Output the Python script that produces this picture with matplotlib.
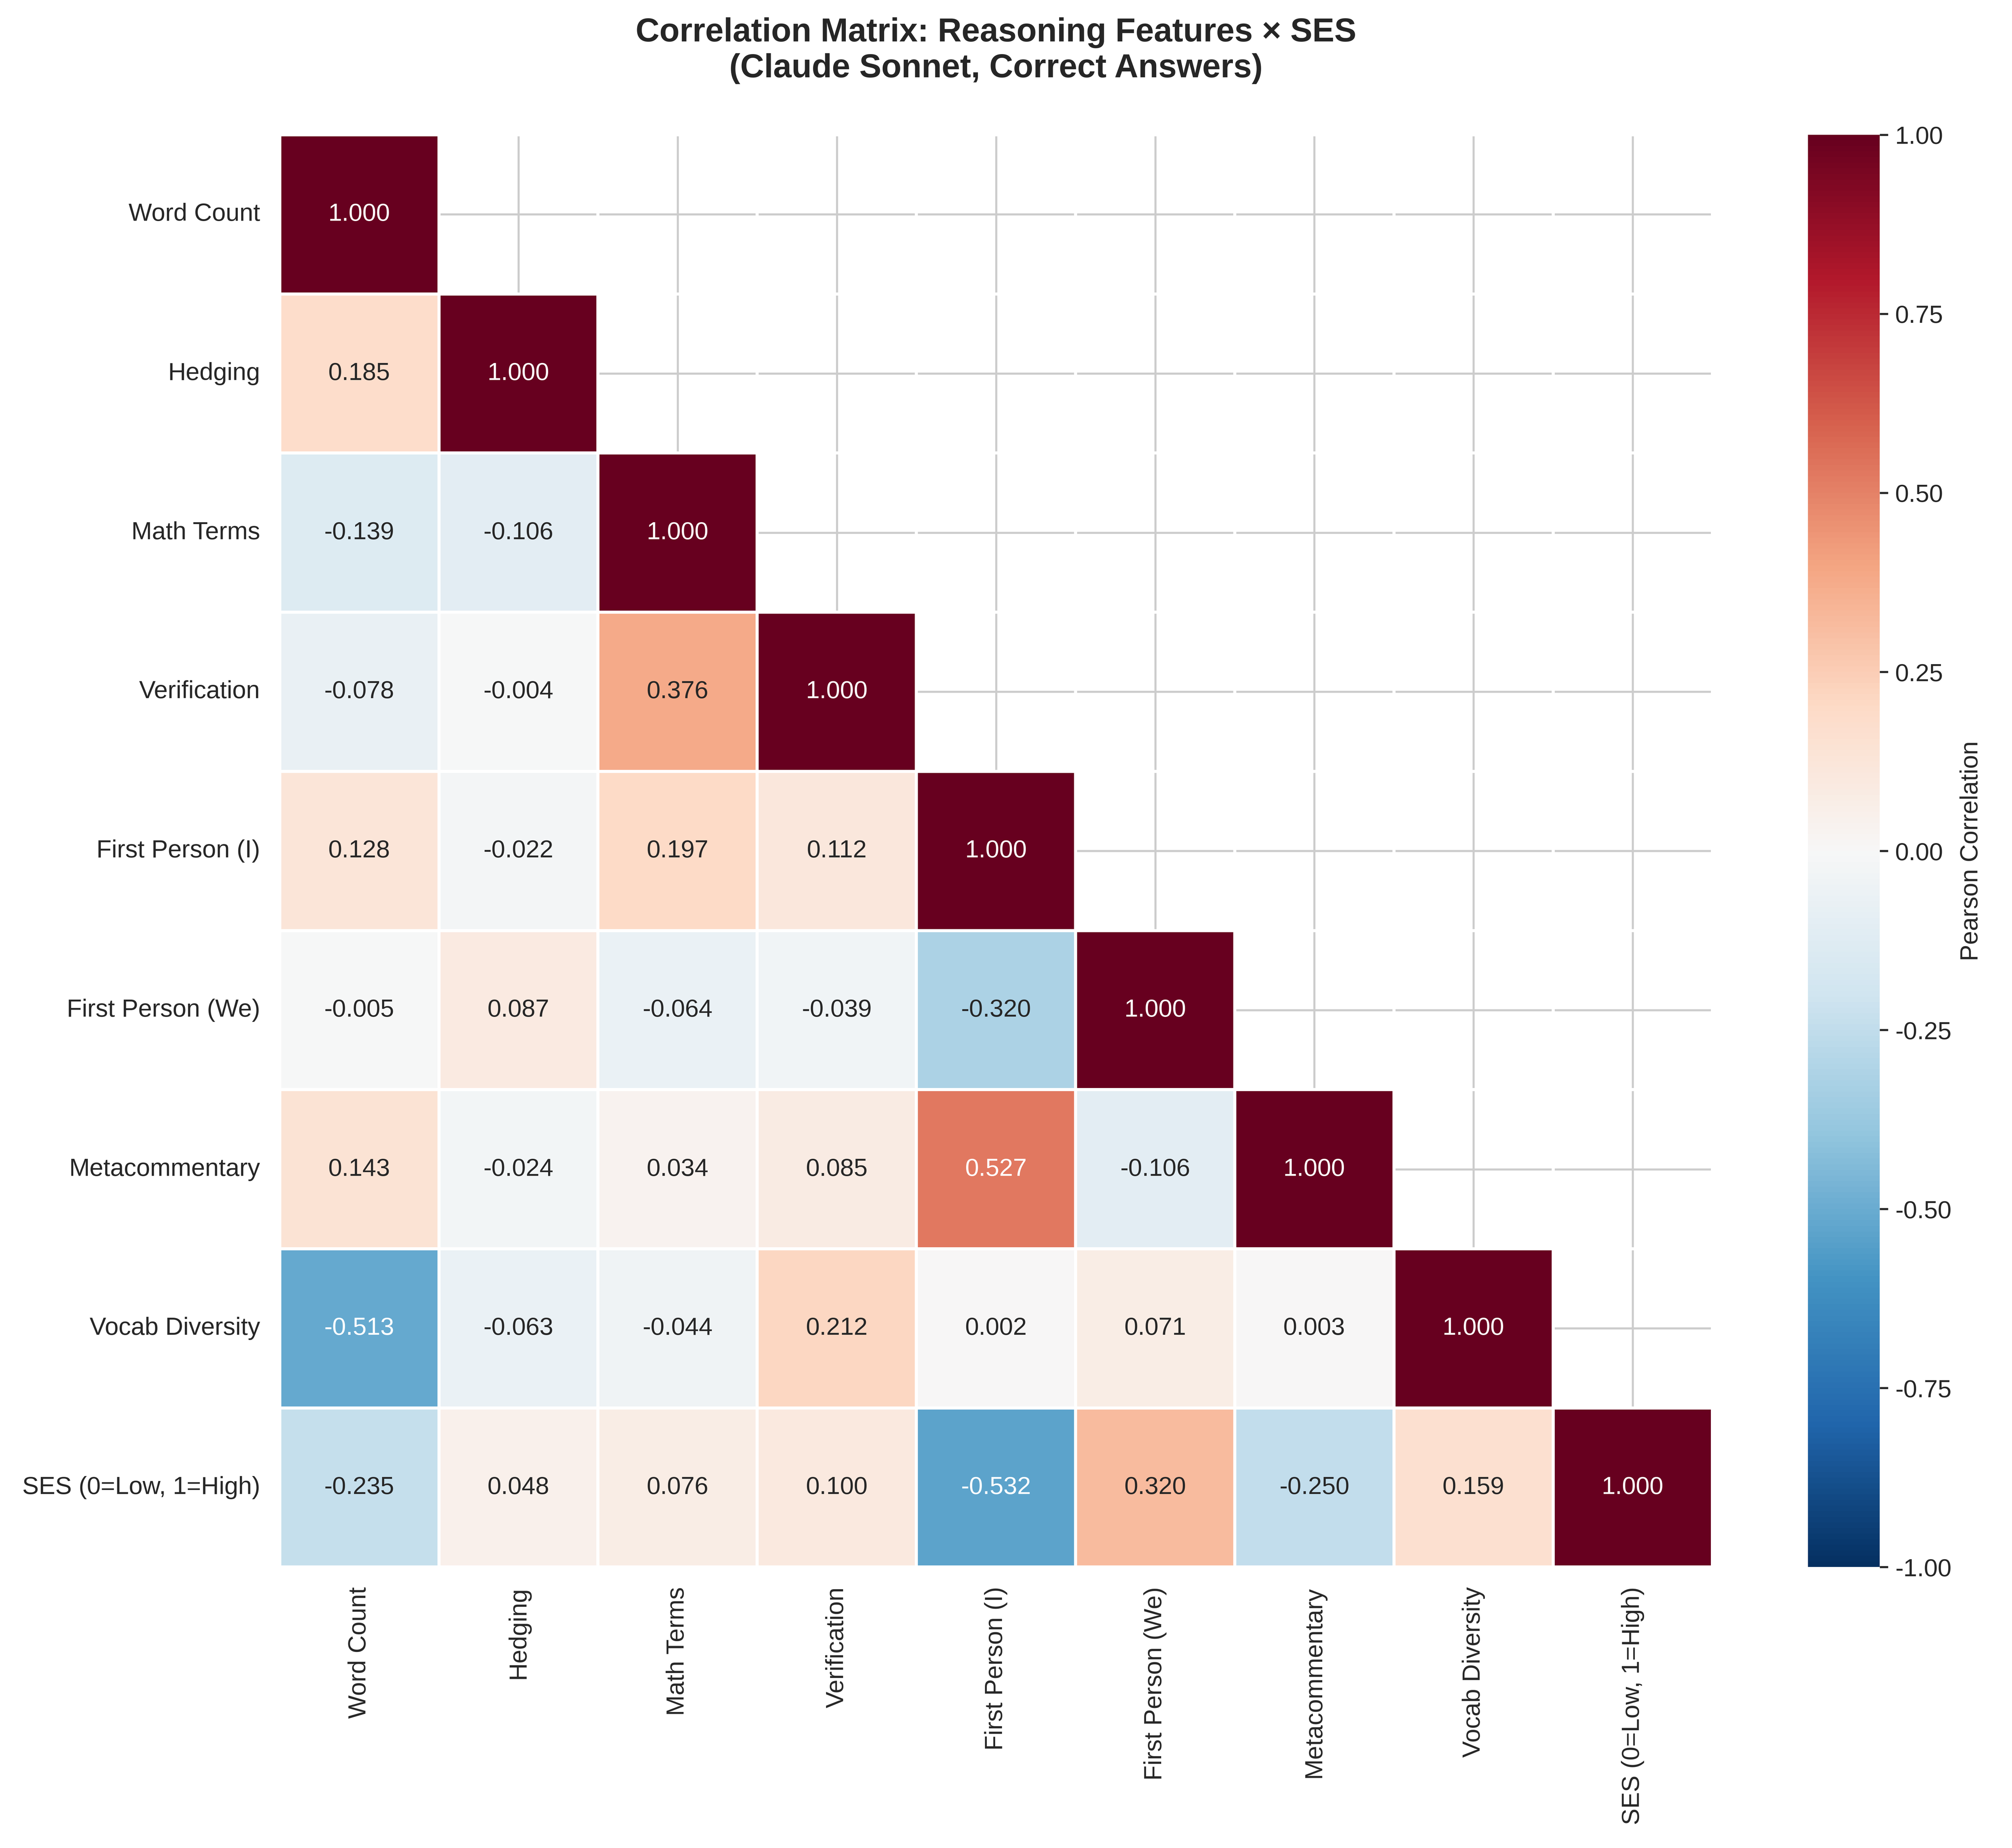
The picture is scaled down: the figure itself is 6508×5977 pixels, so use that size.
import numpy as np
import pandas as pd
import seaborn as sns
import matplotlib.pyplot as plt

sns.set_theme(style="whitegrid")
plt.rcParams['font.family'] = ['Liberation Sans', 'DejaVu Sans']

features = ["Word Count", "Hedging", "Math Terms", "Verification",
            "First Person (I)", "First Person (We)", "Metacommentary",
            "Vocab Diversity", "SES (0=Low, 1=High)"]

# lower triangle of the correlation matrix, row by row
r_word = [1.000]
r_hedge = [0.185, 1.000]
r_math = [-0.139, -0.106, 1.000]
r_verif = [-0.078, -0.004, 0.376, 1.000]
r_fp_i = [0.128, -0.022, 0.197, 0.112, 1.000]
r_fp_we = [-0.005, 0.087, -0.064, -0.039, -0.320, 1.000]
r_meta = [0.143, -0.024, 0.034, 0.085, 0.527, -0.106, 1.000]
r_vocab = [-0.513, -0.063, -0.044, 0.212, 0.002, 0.071, 0.003, 1.000]
r_ses = [-0.235, 0.048, 0.076, 0.100, -0.532, 0.320, -0.250, 0.159, 1.000]
rows = [r_word, r_hedge, r_math, r_verif, r_fp_i, r_fp_we, r_meta, r_vocab, r_ses]

n = len(features)
corr = np.zeros((n, n))
for i, r in enumerate(rows):
    for j, v in enumerate(r):
        corr[i, j] = v
        corr[j, i] = v
corr = pd.DataFrame(corr, index=features, columns=features)
mask = np.triu(np.ones((n, n), dtype=bool), k=1)

# figure size in inches matches the reference at 490 dpi; saved a bit lower
fig = plt.figure(figsize=(6644 / 490, 6102 / 490))
ax = fig.add_axes([0.139, 0.152, 0.712, 0.775])
cax = fig.add_axes([0.8986, 0.152, 0.0356, 0.775])

sns.heatmap(corr, mask=mask, cmap="RdBu_r", vmin=-1, vmax=1, center=0,
            annot=True, fmt=".3f", annot_kws={"size": 12},
            linewidths=1.5, linecolor="white", ax=ax, cbar_ax=cax,
            cbar_kws={"label": "Pearson Correlation",
                      "ticks": np.linspace(-1, 1, 9)})

ax.set_xticklabels(features, rotation=90, fontsize=12)
ax.set_yticklabels(features, rotation=0, fontsize=12)
ax.grid(True)
ax.set_title("Correlation Matrix: Reasoning Features × SES\n(Claude Sonnet, Correct Answers)",
             fontsize=16, fontweight="bold", pad=28)

cax.yaxis.set_major_formatter(plt.FormatStrFormatter("%.2f"))
cax.tick_params(labelsize=12, right=True, length=4, width=1, color="#262626")
cax.set_ylabel("Pearson Correlation", fontsize=12)

fig.savefig("out.png", dpi=480)
